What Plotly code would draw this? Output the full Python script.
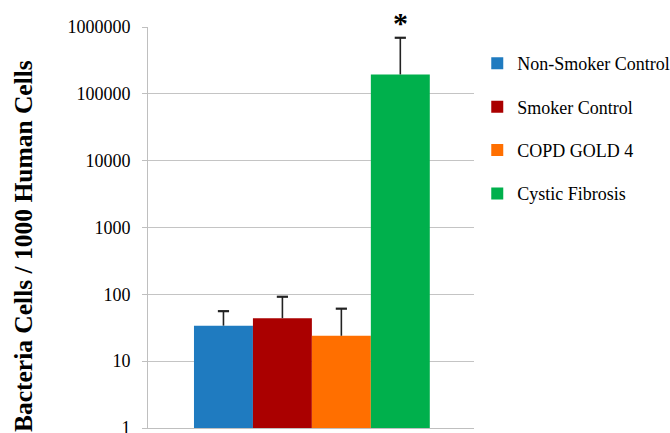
import plotly.graph_objects as go

# Bacterial load per group (geometric means) with upper error
groups = ["Non-Smoker Control", "Smoker Control", "COPD GOLD 4", "Cystic Fibrosis"]
means = [34, 44, 24, 195000]
err_plus = [22, 48, 37, 495000]
colors = ["#1F7BC0", "#AA0000", "#FF6F00", "#00B04C"]

tick_vals = [1, 10, 100, 1000, 10000, 100000, 1000000]
tick_text = ["1", "10", "100", "1000", "10000", "100000", "1000000"]

serif = "Liberation Serif"
err_color = "#222222"

fig = go.Figure()
for i, (name, m, e, c) in enumerate(zip(groups, means, err_plus, colors)):
    fig.add_trace(go.Bar(
        x=[i], y=[m], name=name, width=1, legendgroup=f"g{i}",
        marker=dict(color=c, line=dict(width=0)),
        error_y=dict(type="data", array=[e], symmetric=False, arrayminus=[0],
                     color=err_color, thickness=1.6, width=0),
    ))

# caps on the upper end of each error bar
fig.add_trace(go.Scatter(
    x=list(range(len(groups))),
    y=[m + e for m, e in zip(means, err_plus)],
    mode="markers", showlegend=False, hoverinfo="skip",
    marker=dict(symbol="line-ew", size=8, line=dict(color=err_color, width=2.2)),
))

fig.update_layout(
    width=670, height=433,
    margin=dict(l=148, r=196, t=27, b=5, autoexpand=False),
    paper_bgcolor="white", plot_bgcolor="white",
    barmode="overlay",
    font=dict(family=serif, color="black"),
    legend=dict(
        x=1.01, xanchor="left", y=0.955, yanchor="top",
        font=dict(family=serif, size=18, color="black"),
        tracegroupgap=17, bgcolor="rgba(0,0,0,0)",
    ),
    xaxis=dict(
        range=[-1.28, 4.25], showticklabels=False, ticks="",
        showgrid=False, zeroline=False, automargin=False,
        showline=True, linecolor="#BFBFBF", linewidth=1,
    ),
    yaxis=dict(
        type="log", range=[0, 6], automargin=False,
        tickvals=tick_vals, ticktext=tick_text,
        tickfont=dict(family=serif, size=18, color="black"),
        ticks="outside", ticklen=5, tickcolor="#BFBFBF", ticklabelstandoff=8,
        ticklabeloverflow="allow",
        showgrid=True, gridcolor="#C4C4C4", gridwidth=1,
        showline=True, linecolor="#BFBFBF", linewidth=1, zeroline=False,
    ),
    annotations=[
        dict(text="<b>Bacteria Cells / 1000 Human Cells</b>", textangle=-90,
             xref="paper", yref="paper", x=-0.38, y=0.454,
             xanchor="center", yanchor="middle", showarrow=False,
             font=dict(family=serif, size=25.5, color="black")),
        dict(text="<b>*</b>", xref="x", yref="paper", x=3, y=1.01,
             xanchor="center", yanchor="middle", showarrow=False,
             font=dict(family=serif, size=30, color="black")),
    ],
)

fig.write_html("out.html")
